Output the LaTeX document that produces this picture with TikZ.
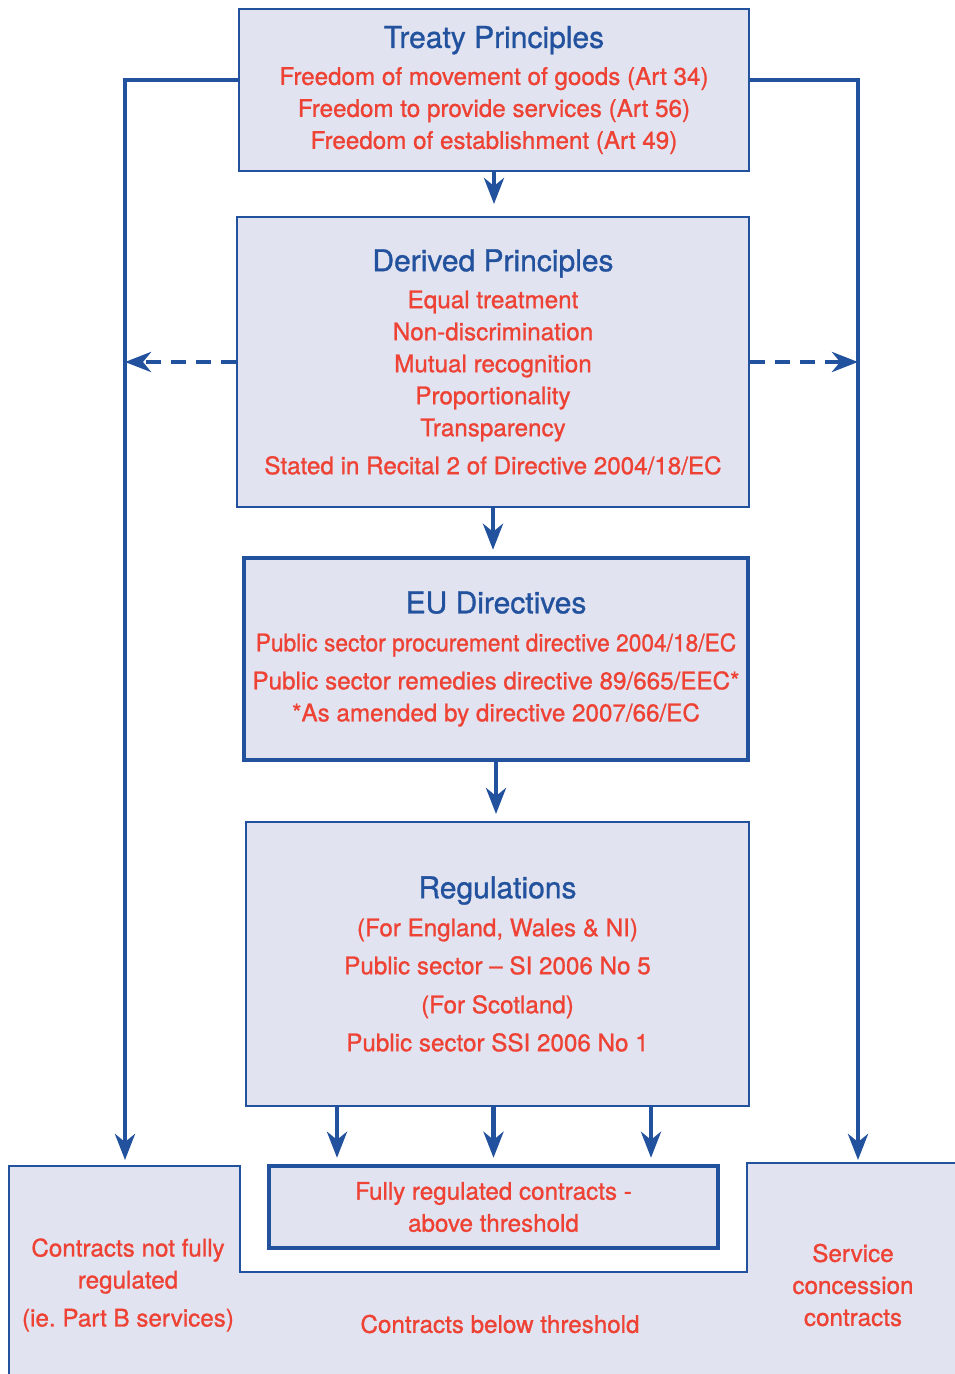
\documentclass[tikz,border=0pt]{standalone}
\usepackage{fontspec}
\setmainfont{TeX Gyre Heros}[FakeBold=1.0]
\usepackage{xcolor}
\usepackage{graphicx}
\usetikzlibrary{arrows.meta}
\definecolor{pblue}{RGB}{34,82,158}
\definecolor{pred}{RGB}{238,66,52}
\definecolor{pfill}{RGB}{225,227,240}
\newcommand{\boxtitle}[1]{{\fontsize{15}{18}\selectfont\color{pblue}#1}}
\tikzset{
  pbox/.style={draw=pblue, line width=1pt, fill=pfill, align=center, text=pred, inner sep=0pt},
  pboxthick/.style={pbox, line width=2.2pt},
  conn/.style={draw=pblue, line width=2.2pt, -{Stealth[length=13pt,width=10pt,inset=4pt]}},
  dconn/.style={conn, dash pattern=on 7.5pt off 5pt}
}

\begin{document}
\begin{tikzpicture}[x=0.5pt,y=-0.5pt,every node/.style={font=\fontsize{12.1}{16}\selectfont}]
  \useasboundingbox (0,0) rectangle (954,1374);

  % --- area in basso: contratti non (pienamente) regolati ------------------
  \draw[draw=pblue, line width=1pt, fill=pfill]
    (9,1380) -- (9,1166) -- (240,1166) -- (240,1272) -- (747,1272)
    -- (747,1163) -- (960,1163) -- (960,1380) -- cycle;
  \node[text=pred, align=center] (notfully) at (128,1285)
    {Contracts not fully\\regulated\\[3pt](ie.\ Part B services)};
  \node[text=pred] (below) at (500,1324) {Contracts below threshold};
  \node[text=pred, align=center] (concession) at (853,1285)
    {Service\\concession\\contracts};
  \coordinate (lefttop) at (125,1160);
  \coordinate (righttop) at (858,1160);

  % --- blocchi centrali ------------------------------------------------------
  \node[pbox, minimum width=255pt, minimum height=81pt] (treaty) at (494,90)
    {\boxtitle{Treaty Principles}\\[2.5pt]
     Freedom of movement of goods (Art 34)\\
     Freedom to provide services (Art 56)\\
     Freedom of establishment (Art 49)};
  \node[pbox, minimum width=256pt, minimum height=145pt] (derived) at (493,362)
    {\boxtitle{Derived Principles}\\[2.5pt]
     Equal treatment\\
     Non-discrimination\\
     Mutual recognition\\
     Proportionality\\
     Transparency\\[3pt]
     Stated in Recital 2 of Directive 2004/18/EC};
  \node[pboxthick, minimum width=252pt, minimum height=101pt] (eu) at (496,659)
    {\boxtitle{EU Directives}\\[3pt]
     \scalebox{0.94}[1]{Public sector procurement directive 2004/18/EC}\\[3pt]
     Public sector remedies directive 89/665/EEC*\\
     *As amended by directive 2007/66/EC};
  \node[pbox, minimum width=251.5pt, minimum height=142pt] (reg) at (497.5,964)
    {\boxtitle{Regulations}\\[3pt]
     (For England, Wales \& NI)\\[3pt]
     Public sector -- SI 2006 No 5\\[3.5pt]
     (For Scotland)\\[3pt]
     Public sector SSI 2006 No 1};
  \node[pboxthick, minimum width=224.5pt, minimum height=41pt] (fully) at (493.5,1207)
    {Fully regulated contracts -\\above threshold};

  % --- frecce ----------------------------------------------------------------
  \draw[conn, shorten >=6pt] (treaty.south) -- (treaty.south |- derived.north);
  \draw[conn, shorten >=3pt] (derived.south) -- (derived.south |- eu.north);
  \draw[conn, shorten >=3.5pt] (eu.south) -- (eu.south |- reg.north);
  \foreach \dx in {-78.25,0,78.75}
    \draw[conn, shorten >=3pt] ([xshift=\dx pt]fully.north |- reg.south) -- ([xshift=\dx pt]fully.north);

  % rami laterali
  \draw[conn] ([yshift=5pt]treaty.west) -| (lefttop);
  \draw[conn] ([yshift=5pt]treaty.east) -| (righttop);
  \draw[dconn] (derived.west) -- (derived.west -| lefttop);
  \draw[dconn] (derived.east) -- (derived.east -| righttop);

\end{tikzpicture}
\end{document}
